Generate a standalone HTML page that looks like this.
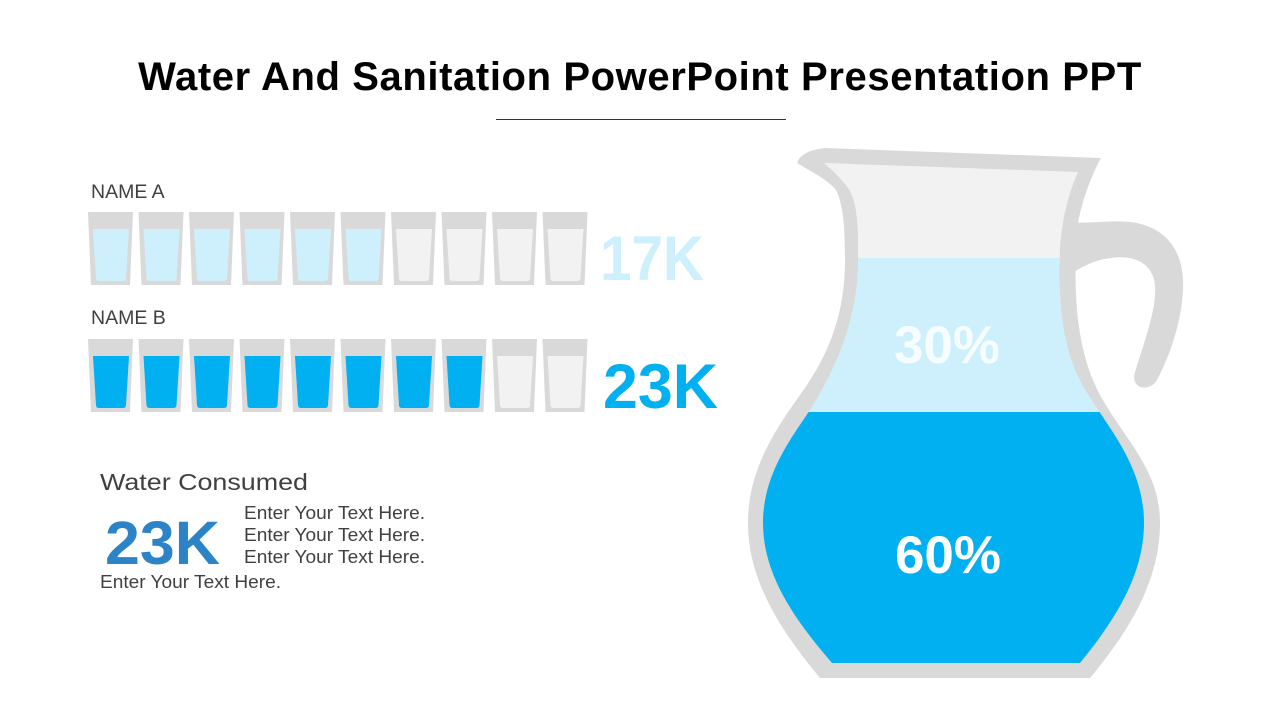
<!DOCTYPE html>
<html>
<head>
<meta charset="utf-8">
<style>
  html, body { margin:0; padding:0; background:#ffffff; }
  body { width:1280px; height:720px; overflow:hidden; }
  svg { display:block; }
  text { font-family:"Liberation Sans", Arial, sans-serif; }
</style>
</head>
<body>
<svg width="1280" height="720" viewBox="0 0 1280 720" xmlns="http://www.w3.org/2000/svg">
  <defs>
    <path id="gOuter" d="M0 0 H45 L42 73 H3 Z" fill="#d9d9d9"/>
    <path id="gInner" d="M5 17 H41 L38 66 Q37.8 69 35 69 H11 Q8.2 69 8 66 Z"/>
    <clipPath id="jugClip">
      <path d="M824 163 L1078 172 C1070 190, 1062 215, 1060 250 C1058 300, 1062 345, 1080 380 C1100 420, 1144 460, 1144 523 C1144 575, 1115 620, 1080 663 L832 663 C795 620, 763 575, 763 523 C763 475, 790 440, 810 410 C835 370, 858 320, 858 260 C859 220, 856 200, 848 188 C840 177, 832 170, 824 163 Z"/>
    </clipPath>
  </defs>

  <!-- Title -->
  <text x="640" y="90" text-anchor="middle" font-size="40" font-weight="bold" fill="#000" letter-spacing="0.6">Water And Sanitation PowerPoint Presentation PPT</text>
  <line x1="496" y1="119.5" x2="786" y2="119.5" stroke="#333333" stroke-width="1"/>

  <!-- Names -->
  <text x="91" y="198" font-size="19.5" fill="#404040">NAME A</text>
  <text x="91" y="324" font-size="19.5" fill="#404040">NAME B</text>

  <!-- Row A glasses -->
  <g transform="translate(88,212)"><use href="#gOuter"/><use href="#gInner" fill="#cdf0fc"/></g>
  <g transform="translate(138.5,212)"><use href="#gOuter"/><use href="#gInner" fill="#cdf0fc"/></g>
  <g transform="translate(189,212)"><use href="#gOuter"/><use href="#gInner" fill="#cdf0fc"/></g>
  <g transform="translate(239.5,212)"><use href="#gOuter"/><use href="#gInner" fill="#cdf0fc"/></g>
  <g transform="translate(290,212)"><use href="#gOuter"/><use href="#gInner" fill="#cdf0fc"/></g>
  <g transform="translate(340.5,212)"><use href="#gOuter"/><use href="#gInner" fill="#cdf0fc"/></g>
  <g transform="translate(391,212)"><use href="#gOuter"/><use href="#gInner" fill="#f2f2f2"/></g>
  <g transform="translate(441.5,212)"><use href="#gOuter"/><use href="#gInner" fill="#f2f2f2"/></g>
  <g transform="translate(492,212)"><use href="#gOuter"/><use href="#gInner" fill="#f2f2f2"/></g>
  <g transform="translate(542.5,212)"><use href="#gOuter"/><use href="#gInner" fill="#f2f2f2"/></g>

  <!-- Row B glasses -->
  <g transform="translate(88,339)"><use href="#gOuter"/><use href="#gInner" fill="#00b0f0"/></g>
  <g transform="translate(138.5,339)"><use href="#gOuter"/><use href="#gInner" fill="#00b0f0"/></g>
  <g transform="translate(189,339)"><use href="#gOuter"/><use href="#gInner" fill="#00b0f0"/></g>
  <g transform="translate(239.5,339)"><use href="#gOuter"/><use href="#gInner" fill="#00b0f0"/></g>
  <g transform="translate(290,339)"><use href="#gOuter"/><use href="#gInner" fill="#00b0f0"/></g>
  <g transform="translate(340.5,339)"><use href="#gOuter"/><use href="#gInner" fill="#00b0f0"/></g>
  <g transform="translate(391,339)"><use href="#gOuter"/><use href="#gInner" fill="#00b0f0"/></g>
  <g transform="translate(441.5,339)"><use href="#gOuter"/><use href="#gInner" fill="#00b0f0"/></g>
  <g transform="translate(492,339)"><use href="#gOuter"/><use href="#gInner" fill="#f2f2f2"/></g>
  <g transform="translate(542.5,339)"><use href="#gOuter"/><use href="#gInner" fill="#f2f2f2"/></g>

  <!-- Values -->
  <text x="600" y="280" font-size="63" font-weight="bold" fill="#cdf0fc" textLength="104" lengthAdjust="spacingAndGlyphs">17K</text>
  <text x="603" y="408" font-size="63" font-weight="bold" fill="#00b0f0" textLength="115" lengthAdjust="spacingAndGlyphs">23K</text>

  <!-- Bottom-left text block -->
  <text x="100" y="490" font-size="23" fill="#404040" textLength="208" lengthAdjust="spacingAndGlyphs">Water Consumed</text>
  <text x="105" y="564" font-size="61" font-weight="bold" fill="#2c84c6" textLength="115" lengthAdjust="spacingAndGlyphs">23K</text>
  <text x="244" y="519" font-size="18" fill="#404040" textLength="181" lengthAdjust="spacingAndGlyphs">Enter Your Text Here.</text>
  <text x="244" y="541" font-size="18" fill="#404040" textLength="181" lengthAdjust="spacingAndGlyphs">Enter Your Text Here.</text>
  <text x="244" y="563" font-size="18" fill="#404040" textLength="181" lengthAdjust="spacingAndGlyphs">Enter Your Text Here.</text>
  <text x="100" y="588" font-size="18" fill="#404040" textLength="181" lengthAdjust="spacingAndGlyphs">Enter Your Text Here.</text>

  <!-- Jug handle -->
  <path d="M1068 222 C1090 224, 1110 220, 1130 222 C1165 226, 1185 250, 1183 290 C1181 330, 1165 365, 1157 380 C1150 392, 1130 390, 1135 372 C1143 345, 1157 310, 1155 285 C1152 260, 1130 255, 1110 258 C1095 260, 1082 266, 1068 276 Z" fill="#d9d9d9"/>

  <!-- Jug outer -->
  <path d="M797 163 C800 155, 808 150, 825 148 L1101 158 C1093 172, 1082 200, 1078 223 C1072 290, 1076 350, 1100 395 C1125 440, 1160 470, 1160 523 C1160 580, 1130 630, 1090 678 L820 678 C780 630, 748 580, 748 523 C748 470, 775 430, 800 395 C825 360, 845 320, 845 260 C845 225, 843 205, 836 190 C828 180, 812 172, 797 163 Z" fill="#d9d9d9"/>

  <!-- Jug inner -->
  <g clip-path="url(#jugClip)">
    <rect x="740" y="140" width="440" height="118" fill="#f2f2f2"/>
    <rect x="740" y="258" width="440" height="154" fill="#cdf0fc"/>
    <rect x="740" y="412" width="440" height="260" fill="#00b0f0"/>
  </g>

  <text x="947" y="363" text-anchor="middle" font-size="53" font-weight="bold" fill="#f7fcff">30%</text>
  <text x="948" y="573" text-anchor="middle" font-size="53" font-weight="bold" fill="#ffffff">60%</text>
</svg>
</body>
</html>
